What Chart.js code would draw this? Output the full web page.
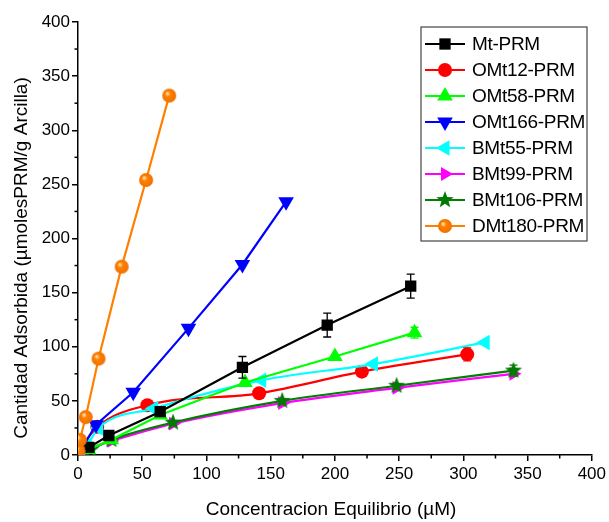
<!DOCTYPE html>
<html>
<head>
<meta charset="utf-8">
<script src="https://cdn.jsdelivr.net/npm/chart.js@4/dist/chart.umd.min.js"></script>
<style>
    html, body { margin: 0; padding: 0; background: #fff; }
</style>
</head>
<body>
<canvas id="isoChart" width="609" height="522"></canvas>
<script>
// Isotermas de adsorcion

const seriesNames = ["Mt-PRM", "OMt12-PRM", "OMt58-PRM", "OMt166-PRM", "BMt55-PRM", "BMt99-PRM", "BMt106-PRM", "DMt180-PRM"];

const xMt = [8.5, 24, 64, 128, 194, 259];
const yMt = [7, 18, 40, 81, 120, 156];
const eMt = [1.5, 2, 3, 10, 11, 11];

const xOMt12 = [3, 15, 54, 141, 221, 303];
const yOMt12 = [8, 26, 46, 57, 77, 93];
const eOMt12 = [0, 0, 0, 0, 0, 6];

const xOMt58 = [8, 26, 64, 130, 200, 262];
const yOMt58 = [5, 14, 37, 67, 91, 113];
const eOMt58 = [0, 0, 0, 0, 0, 5];

const xOMt166 = [3, 14, 43, 86, 128, 162];
const yOMt166 = [6, 28, 58, 117, 176, 234];

const xBMt55 = [2, 7, 16, 59, 143, 230, 317];
const yBMt55 = [4, 9, 25, 43, 69, 84, 104];

const xBMt99 = [8, 26, 74, 159, 248, 339];
const yBMt99 = [6, 13, 29, 48, 62, 75];

const xBMt106 = [10, 26, 74, 159, 248, 339];
const yBMt106 = [5, 14, 30, 50, 64, 78];
const eBMt106 = [0, 0, 0, 0, 0, 5];

const xDMt180 = [0.5, 1.5, 6, 16, 34, 53, 71];
const yDMt180 = [4, 14, 35, 89, 174, 254, 332];

const xTicks = [0, 50, 100, 150, 200, 250, 300, 350, 400];
const yTicks = [0, 50, 100, 150, 200, 250, 300, 350, 400];

const xTitle = "Concentracion Equilibrio (\u00b5M)";
const yTitle = "Cantidad Adsorbida (\u00b5molesPRM/g Arcilla)";

const FONT = "'Liberation Sans', Arial, sans-serif";

function pts(xs, ys) {
    return xs.map((x, i) => ({ x: x, y: ys[i] }));
}

// filled five-point star for BMt106
function makeStar(color, r) {
    const c = document.createElement("canvas");
    c.width = c.height = r * 2 + 2;
    const g = c.getContext("2d");
    const cx = r + 1, cy = r + 1;
    g.beginPath();
    for (let i = 0; i < 10; i++) {
        const rad = i % 2 === 0 ? r : r * 0.42;
        const a = -Math.PI / 2 + i * Math.PI / 5;
        g.lineTo(cx + rad * Math.cos(a), cy + rad * Math.sin(a));
    }
    g.closePath();
    g.fillStyle = color;
    g.fill();
    return c;
}

// orange ball with small highlight
function makeBall(color, r) {
    const c = document.createElement("canvas");
    c.width = c.height = r * 2 + 2;
    const g = c.getContext("2d");
    const cx = r + 1, cy = r + 1;
    const grd = g.createRadialGradient(cx - r * 0.3, cy - r * 0.35, 0.5, cx, cy, r);
    grd.addColorStop(0, "#ffe0b0");
    grd.addColorStop(0.35, color);
    grd.addColorStop(1, "#f07000");
    g.beginPath();
    g.arc(cx, cy, r, 0, Math.PI * 2);
    g.fillStyle = grd;
    g.fill();
    return c;
}

const starImg = makeStar("#007a00", 9);
const ballImg = makeBall("#ff8000", 7);

function ds(i, data, color, style, rot, radius, extra) {
    return Object.assign({
        label: seriesNames[i],
        data: data,
        borderColor: color,
        backgroundColor: color,
        borderWidth: 2.2,
        pointStyle: style,
        rotation: rot,
        pointRadius: radius,
        pointBorderWidth: 0,
        pointBackgroundColor: color,
        pointBorderColor: color,
        showLine: true,
        fill: false,
    }, extra || {});
}

const datasets = [
    ds(0, pts(xMt, yMt), "#000000", "rect", 0, 8, { errors: eMt, order: 1 }),
    ds(1, pts(xOMt12, yOMt12), "#ff0000", "circle", 0, 7, { errors: eOMt12, order: 6, cubicInterpolationMode: "monotone" }),
    ds(2, pts(xOMt58, yOMt58), "#00ff00", "triangle", 0, 9, { errors: eOMt58, order: 3 }),
    ds(3, pts(xOMt166, yOMt166), "#0000ff", "triangle", 180, 9, { order: 2 }),
    ds(4, pts(xBMt55, yBMt55), "#00ffff", "triangle", -90, 9, { order: 4, cubicInterpolationMode: "monotone" }),
    ds(5, pts(xBMt99, yBMt99), "#ff00ff", "triangle", 90, 8, { order: 8, cubicInterpolationMode: "monotone" }),
    ds(6, pts(xBMt106, yBMt106), "#008000", starImg, 0, 9, { errors: eBMt106, order: 7, cubicInterpolationMode: "monotone" }),
    ds(7, pts(xDMt180, yDMt180), "#ff8000", ballImg, 0, 7, { order: 0 }),
];

// error bars + minor ticks + axis titles + legend
const extrasPlugin = {
    id: "extras",
    afterDatasetsDraw(chart) {
        const ctx = chart.ctx;
        const xs = chart.scales.x, ys = chart.scales.y;
        ctx.save();
        ctx.lineWidth = 1.3;
        chart.data.datasets.forEach(d => {
            if (!d.errors) return;
            ctx.strokeStyle = d.label === "Mt-PRM" ? "#000" : d.borderColor;
            d.data.forEach((p, i) => {
                const e = d.errors[i];
                if (!e) return;
                const px = xs.getPixelForValue(p.x);
                const top = ys.getPixelForValue(p.y + e);
                const bot = ys.getPixelForValue(p.y - e);
                ctx.beginPath();
                ctx.moveTo(px, top); ctx.lineTo(px, bot);
                ctx.moveTo(px - 4, top); ctx.lineTo(px + 4, top);
                ctx.moveTo(px - 4, bot); ctx.lineTo(px + 4, bot);
                ctx.stroke();
            });
        });
        ctx.restore();
    },
    afterDraw(chart) {
        const ctx = chart.ctx;
        const xs = chart.scales.x, ys = chart.scales.y;
        const area = chart.chartArea;
        ctx.save();
        ctx.strokeStyle = "#000";
        ctx.lineWidth = 1.5;
        for (let i = 0; i < xTicks.length - 1; i++) {
            const v = (xTicks[i] + xTicks[i + 1]) / 2;
            const px = xs.getPixelForValue(v);
            ctx.beginPath();
            ctx.moveTo(px, area.bottom);
            ctx.lineTo(px, area.bottom + 3.5);
            ctx.stroke();
        }
        for (let i = 0; i < yTicks.length - 1; i++) {
            const v = (yTicks[i] + yTicks[i + 1]) / 2;
            const py = ys.getPixelForValue(v);
            ctx.beginPath();
            ctx.moveTo(area.left, py);
            ctx.lineTo(area.left - 3.5, py);
            ctx.stroke();
        }

        // axis titles (Origin-style placement, slightly off-centre)
        ctx.fillStyle = "#000";
        ctx.font = "19px " + FONT;
        ctx.textAlign = "center";
        ctx.textBaseline = "middle";
        ctx.fillText(xTitle, 331, 510);
        ctx.save();
        ctx.translate(22, 258);
        ctx.rotate(-Math.PI / 2);
        ctx.fillText(yTitle, 0, 0);
        ctx.restore();

        // legend box
        const bx = 421, by = 27, bw = 166, bh = 214;
        ctx.textAlign = "left";
        ctx.fillStyle = "#fff";
        ctx.fillRect(bx, by, bw, bh);
        ctx.lineWidth = 1.2;
        ctx.strokeStyle = "#444";
        ctx.strokeRect(bx, by, bw, bh);
        ctx.font = "19px " + FONT;
        ctx.textBaseline = "middle";
        if ("letterSpacing" in ctx) ctx.letterSpacing = "-0.3px";
        chart.data.datasets.forEach((d, i) => {
            const y = by + 17 + i * 26;
            ctx.strokeStyle = d.borderColor;
            ctx.lineWidth = 2;
            ctx.beginPath();
            ctx.moveTo(bx + 4, y); ctx.lineTo(bx + 44, y);
            ctx.stroke();
            const opts = {
                pointStyle: d.pointStyle,
                rotation: d.rotation,
                radius: d.pointRadius,
                borderWidth: 0,
            };
            ctx.fillStyle = d.borderColor;
            ctx.strokeStyle = d.borderColor;
            Chart.helpers.drawPoint(ctx, opts, bx + 24, y);
            ctx.fillStyle = "#000";
            ctx.fillText(d.label, bx + 51, y + 1);
        });
        ctx.restore();
    }
};

const axisFont = { family: FONT, size: 17 };

new Chart(document.getElementById("isoChart"), {
    type: "scatter",
    data: { datasets: datasets },
    plugins: [extrasPlugin],
    options: {
        responsive: false,
        animation: false,
        layout: { padding: { top: 22, right: 15, left: 0, bottom: 0 } },
        plugins: {
            legend: { display: false },
            tooltip: { enabled: false },
        },
        scales: {
            x: {
                type: "linear",
                min: 0,
                max: 400,
                afterBuildTicks: s => { s.ticks = xTicks.map(v => ({ value: v })); },
                afterFit: s => { s.height = 67; },
                ticks: { color: "#000", font: axisFont, padding: 3 },
                grid: { drawOnChartArea: false, drawTicks: true, tickLength: 6, color: "#000", lineWidth: 1.5 },
                border: { display: true, color: "#000", width: 1.5 },
                title: { display: false },
            },
            y: {
                type: "linear",
                min: 0,
                max: 400,
                afterBuildTicks: s => { s.ticks = yTicks.map(v => ({ value: v })); },
                afterFit: s => { s.width = 78; },
                ticks: { color: "#000", font: axisFont, padding: 2 },
                grid: { drawOnChartArea: false, drawTicks: true, tickLength: 6, color: "#000", lineWidth: 1.5 },
                border: { display: true, color: "#000", width: 1.5 },
                title: { display: false },
            },
        },
    },
});
</script>
</body>
</html>
